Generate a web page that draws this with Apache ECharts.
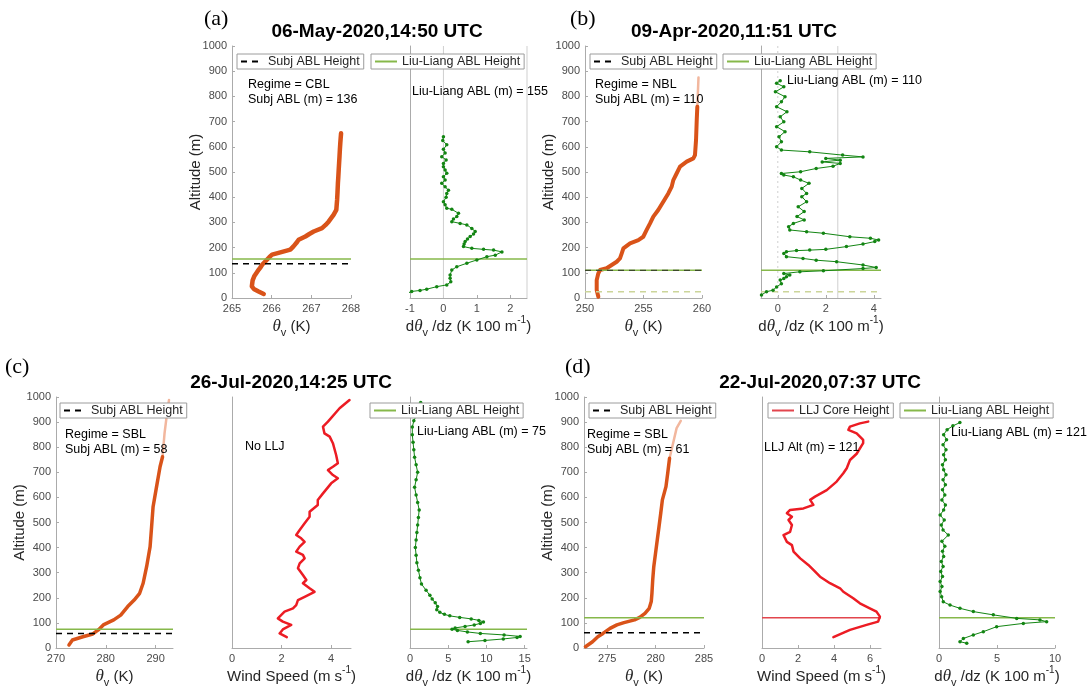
<!DOCTYPE html>
<html><head><meta charset="utf-8">
<script src="https://cdn.jsdelivr.net/npm/echarts@6/dist/echarts.min.js"></script>
<style>html,body{margin:0;padding:0;background:#fff}#c{width:1089px;height:692px}</style>
</head><body><div id="c"></div><script>
// ---------------- DATA ----------------
// Panel (a)
const aTitle = '06-May-2020,14:50 UTC';
const aRegime = 'CBL';
const aSubjABL = 136;
const aLiuLiangABL = 155;
const aThetaTicks = [265, 266, 267, 268];
const aGradTicks = [-1, 0, 1, 2];
const aThetaAlt = [16, 26, 36, 46, 53, 70, 86, 100, 112, 122, 132, 142, 152, 162, 172, 181, 192, 205, 218, 231, 244, 254, 264, 277, 290, 304, 317, 330, 350, 370, 390, 420, 456, 480, 508, 535, 561, 590, 614, 635, 654];
const aThetaVal = [265.80, 265.67, 265.55, 265.50, 265.48, 265.52, 265.56, 265.62, 265.67, 265.72, 265.76, 265.82, 265.88, 265.94, 266.01, 266.22, 266.47, 266.55, 266.62, 266.68, 266.85, 266.95, 267.06, 267.27, 267.36, 267.44, 267.50, 267.56, 267.63, 267.64, 267.65, 267.66, 267.67, 267.68, 267.69, 267.70, 267.71, 267.72, 267.73, 267.74, 267.75];
const aGradAlt = [22, 26, 30, 35, 45, 52, 64, 78, 91, 111, 124, 138, 151, 164, 170, 183, 190, 193, 197, 204, 214, 224, 234, 244, 254, 264, 276, 290, 296, 303, 313, 323, 336, 352, 356, 370, 382, 400, 415, 428, 441, 455, 468, 481, 495, 508, 521, 534, 548, 561, 575, 590, 608, 625, 640];
const aGradVal = [-1.02, -0.95, -0.7, -0.5, -0.2, 0.1, 0.22, 0.2, 0.2, 0.25, 0.4, 0.7, 1.0, 1.3, 1.55, 1.75, 1.5, 1.2, 0.85, 0.6, 0.62, 0.65, 0.72, 0.8, 0.9, 0.95, 0.85, 0.7, 0.5, 0.25, 0.3, 0.4, 0.45, 0.25, 0.1, 0.05, 0.0, 0.08, 0.1, 0.15, 0.05, -0.05, 0.05, 0.0, 0.1, 0.05, 0.0, 0.0, 0.08, -0.05, 0.05, 0.0, 0.1, -0.02, 0.0];
const aRefX = [0, 2.5];

// Panel (b)
const bTitle = '09-Apr-2020,11:51 UTC';
const bRegime = 'NBL';
const bSubjABL = 110;
const bLiuLiangABL = 110;
const bLowerLine = 25;
const bThetaTicks = [250, 255, 260];
const bGradTicks = [0, 2, 4];
const bThetaAlt = [5, 32, 71, 98, 111, 118, 131, 144, 157, 177, 197, 217, 230, 243, 270, 296, 323, 349, 382, 415, 442, 468, 495, 521, 541, 554, 567, 627, 706, 759];
const bThetaVal = [251.14, 251.0, 251.0, 251.14, 251.28, 251.85, 252.28, 252.71, 252.99, 253.14, 253.28, 253.85, 254.56, 254.98, 255.27, 255.56, 255.84, 256.26, 256.69, 257.12, 257.41, 257.55, 257.84, 258.12, 258.69, 259.26, 259.4, 259.49, 259.55, 259.6];
const bThetaUpAlt = [759, 817, 875];
const bThetaUpVal = [259.6, 259.65, 259.7];
const bGradAlt = [12, 25, 31, 44, 57, 71, 77, 84, 91, 97, 104, 108, 117, 121, 131, 144, 150, 157, 164, 177, 184, 188, 190, 193, 204, 214, 224, 230, 237, 243, 257, 263, 270, 283, 296, 310, 323, 343, 362, 382, 402, 415, 435, 455, 468, 481, 488, 494, 501, 514, 523, 534, 540, 547, 554, 560, 567, 580, 587, 600, 620, 640, 660, 680, 699, 719, 739, 759, 779, 799, 818, 838, 852, 862];
const bGradVal = [-0.68, -0.47, -0.2, -0.05, 0.15, 0.1, 0.25, 0.36, 0.5, 0.25, 0.92, 1.9, 3.55, 4.1, 3.55, 2.45, 1.6, 1.05, 0.36, 0.25, 0.36, 0.78, 1.33, 2.0, 2.86, 3.55, 4.04, 4.2, 3.86, 3.0, 1.9, 1.2, 0.5, 0.45, 0.65, 1.1, 0.8, 1.1, 0.85, 1.2, 1.0, 1.2, 1.0, 1.3, 0.95, 0.65, 0.25, 0.15, 0.95, 1.6, 2.3, 2.6, 1.85, 2.6, 2.0, 3.55, 2.7, 1.33, 0.15, -0.05, 0.15, 0.05, 0.3, -0.05, 0.25, 0.1, 0.38, -0.05, 0.15, 0.3, -0.1, 0.25, -0.05, 0.1];
const bRefSolidX = 2.5;
const bRefDotX = 0;

// Panel (c)
const cTitle = '26-Jul-2020,14:25 UTC';
const cRegime = 'SBL';
const cSubjABL = 58;
const cLiuLiangABL = 75;
const cThetaTicks = [270, 280, 290];
const cWindTicks = [0, 2, 4];
const cGradTicks = [0, 5, 10, 15];
const cThetaAlt = [12, 32, 45, 56, 72, 92, 112, 131, 165, 191, 218, 258, 324, 404, 483, 563, 643, 722, 762];
const cThetaVal = [272.6, 273.3, 275.4, 277.4, 278.5, 279.5, 281.6, 283.0, 284.4, 285.7, 286.8, 287.5, 288.2, 288.9, 289.2, 289.5, 290.2, 290.9, 291.4];
const cThetaUpAlt = [762, 855, 935, 988];
const cThetaUpVal = [291.4, 291.8, 292.3, 292.7];
const cWindAlt = [43, 58, 74, 92, 105, 118, 145, 158, 171, 191, 204, 224, 238, 258, 271, 291, 318, 337, 357, 371, 384, 404, 423, 437, 450, 470, 497, 523, 543, 570, 590, 616, 656, 676, 689, 709, 722, 736, 769, 816, 842, 855, 882, 902, 955, 988];
const cWindVal = [2.21, 1.92, 2.05, 2.39, 2.05, 1.85, 2.12, 2.46, 2.59, 2.66, 2.93, 3.33, 3.13, 2.86, 3.0, 2.86, 2.66, 2.73, 2.93, 2.86, 2.59, 2.73, 2.93, 2.79, 2.59, 2.73, 2.93, 3.13, 3.13, 3.46, 3.46, 3.67, 4.0, 4.27, 4.07, 3.87, 4.07, 4.27, 4.2, 4.07, 3.94, 3.73, 3.67, 3.87, 4.34, 4.74];
const cGradAlt = [25, 30, 36, 42, 46, 52, 58, 64, 70, 75, 80, 86, 92, 98, 104, 110, 116, 122, 128, 134, 142, 152, 165, 180, 195, 210, 230, 255, 280, 310, 340, 370, 400, 430, 460, 490, 520, 550, 580, 610, 640, 670, 700, 730, 760, 790, 820, 850, 880, 905, 930, 955, 978];
const cGradVal = [7.6, 9.8, 12.2, 14.0, 14.4, 12.3, 9.2, 7.5, 6.2, 5.5, 5.9, 7.2, 8.4, 9.2, 9.6, 9.0, 8.0, 6.5, 5.2, 4.5, 3.9, 3.5, 3.6, 3.3, 2.9, 2.6, 2.1, 1.5, 1.3, 1.1, 0.9, 0.8, 0.7, 0.8, 0.9, 1.0, 1.1, 1.2, 1.0, 0.8, 0.6, 0.8, 1.0, 0.8, 0.6, 0.5, 0.4, 0.3, 0.3, 0.5, 0.9, 1.1, 1.4];

// Panel (d)
const dTitle = '22-Jul-2020,07:37 UTC';
const dRegime = 'SBL';
const dSubjABL = 61;
const dLiuLiangABL = 121;
const dLLJAlt = 121;
const dThetaTicks = [275, 280, 285];
const dWindTicks = [0, 2, 4, 6];
const dGradTicks = [0, 5, 10];
const dThetaAlt = [5, 25, 45, 58, 78, 92, 101, 112, 122, 138, 158, 185, 218, 271, 324, 377, 430, 483, 537, 590, 643, 696, 756];
const dThetaVal = [272.75, 273.48, 274.03, 274.56, 275.29, 276.0, 276.73, 277.82, 278.36, 278.9, 279.34, 279.55, 279.62, 279.7, 279.81, 279.99, 280.17, 280.35, 280.53, 280.7, 281.07, 281.25, 281.44];
const dThetaUpAlt = [756, 815, 876, 905];
const dThetaUpVal = [281.44, 281.8, 282.17, 282.6];
const dWindAlt = [43, 72, 92, 105, 125, 145, 158, 178, 198, 224, 238, 258, 284, 311, 331, 357, 384, 410, 423, 450, 463, 490, 510, 523, 537, 550, 556, 570, 590, 603, 629, 663, 696, 716, 749, 774, 816, 829, 855, 869, 882, 895, 902];
const dWindVal = [3.96, 4.88, 5.8, 6.44, 6.54, 6.35, 5.98, 5.43, 5.06, 4.51, 4.33, 3.77, 3.22, 2.85, 2.57, 2.12, 1.75, 1.66, 1.38, 1.19, 1.56, 1.66, 1.47, 1.66, 1.38, 1.56, 2.3, 2.85, 2.67, 2.94, 3.59, 4.14, 4.51, 4.7, 4.88, 5.25, 5.61, 5.61, 5.25, 4.79, 4.88, 5.43, 5.89];
const dGradAlt = [19, 25, 38, 52, 65, 85, 98, 105, 112, 118, 132, 145, 158, 171, 184, 204, 225, 245, 265, 285, 305, 325, 345, 365, 385, 405, 425, 450, 470, 490, 510, 530, 550, 570, 590, 610, 630, 650, 670, 690, 710, 730, 750, 770, 790, 810, 830, 850, 870, 885, 898];
const dGradVal = [2.39, 1.81, 2.1, 2.96, 3.82, 4.97, 7.27, 9.28, 8.7, 6.7, 4.68, 2.96, 1.81, 0.95, 0.37, 0.23, 0.1, 0.25, 0.1, 0.3, 0.15, 0.35, 0.2, 0.4, 0.3, 0.5, 0.25, 0.8, 0.35, 0.2, 0.45, 0.1, 0.4, 0.55, 0.25, 0.5, 0.3, 0.55, 0.35, 0.6, 0.4, 0.3, 0.55, 0.4, 0.6, 0.35, 0.65, 0.4, 0.7, 1.2, 1.8];

// ---------------- LAYOUT / STYLE ----------------
const FONT = '"Liberation Sans", Arial, Helvetica, sans-serif';
const SERIF = '"Liberation Serif", "Times New Roman", serif';
const ORANGE = '#D95319', ORANGE_L = '#F2B79E';
const GREEN = '#138513', LLG = '#86B84A', RED = '#EC1C24', LLJR = '#E2454D';
const AXC = '#ABABAB', REFC = '#CFCFCF', TXT = '#262626', LOWC = '#CCD59A';

// grids: [left, top, width, height]
const GRIDS = [
  [232, 46, 119, 252], [410, 46, 117, 252],
  [585, 46, 117, 252], [761, 46, 120, 252],
  [56, 397, 117, 251], [232, 397, 119, 251], [410, 397, 117, 251],
  [584, 397, 120, 251], [762, 397, 119, 251], [939, 397, 116, 251]
];
const XLIM = [[265, 268], [-1, 2.5], [250, 260], [-0.7, 4.3], [270, 293.5], [0, 4.8], [0, 15.3], [272.6, 285], [0, 6.6], [0, 10]];
const XTICKS = [aThetaTicks, aGradTicks, bThetaTicks, bGradTicks, cThetaTicks, cWindTicks, cGradTicks, dThetaTicks, dWindTicks, dGradTicks];
const NAME_THETA = '{it|θ}{sub|v} (K)';
const NAME_GRAD = 'd{it|θ}{sub|v} /dz (K 100 m{sup|-1})';
const NAME_WIND = 'Wind Speed (m s{sup|-1})';
const XNAMES = [NAME_THETA, NAME_GRAD, NAME_THETA, NAME_GRAD, NAME_THETA, NAME_WIND, NAME_GRAD, NAME_THETA, NAME_WIND, NAME_GRAD];
const LEFT_PANELS = [0, 2, 4, 7];

const rich = {
  it: {fontFamily: SERIF, fontStyle: 'italic', fontSize: 17, color: TXT, lineHeight: 24},
  sub: {fontFamily: FONT, fontSize: 11, color: TXT, lineHeight: 12, verticalAlign: 'bottom'},
  sup: {fontFamily: FONT, fontSize: 10, color: TXT, lineHeight: 11, verticalAlign: 'top'}
};

const grid = GRIDS.map(g => ({left: g[0], top: g[1], width: g[2], height: g[3], containLabel: false}));
const xAxis = GRIDS.map((g, i) => ({
  type: 'value', gridIndex: i, min: XLIM[i][0], max: XLIM[i][1],
  axisLine: {show: true, onZero: false, lineStyle: {color: AXC, width: 1}},
  axisTick: {show: true, inside: true, length: 3, customValues: XTICKS[i], lineStyle: {color: AXC}},
  axisLabel: {show: true, customValues: XTICKS[i], fontSize: 11, color: '#4a4a4a', fontFamily: FONT, margin: 5,
    formatter: v => String(v)},
  splitLine: {show: false},
  name: XNAMES[i], nameLocation: 'middle', nameGap: 14,
  nameTextStyle: {fontFamily: FONT, fontSize: 15, color: TXT, lineHeight: 24, rich: rich}
}));
const yAxis = GRIDS.map((g, i) => {
  const lab = LEFT_PANELS.includes(i);
  return {
    type: 'value', gridIndex: i, min: 0, max: 1000, interval: 100,
    axisLine: {show: true, onZero: false, lineStyle: {color: AXC, width: 1}},
    axisTick: {show: lab, inside: true, length: 3, lineStyle: {color: AXC}},
    axisLabel: {show: lab, fontSize: 11, color: '#4a4a4a', fontFamily: FONT, margin: 5, formatter: v => String(v)},
    splitLine: {show: false},
    name: lab ? 'Altitude (m)' : '', nameLocation: 'middle', nameGap: 29, nameMoveOverlap: false,
    nameTextStyle: {fontFamily: FONT, fontSize: 15, color: TXT}
  };
});

// ---------------- SERIES ----------------
const series = [];
const zip = (vals, alts) => vals.map((v, k) => [v, alts[k]]);
function line(name, gi, data, color, width, extra) {
  series.push(Object.assign({
    type: 'line', name: name, xAxisIndex: gi, yAxisIndex: gi, data: data,
    symbol: 'none', silent: true, animation: false,
    lineStyle: {color: color, width: width, cap: 'round', join: 'round'},
    itemStyle: {color: color}
  }, extra || {}));
}
function hline(name, gi, y, color, width, type) {
  line(name, gi, [[XLIM[gi][0], y], [XLIM[gi][1], y]], color, width,
    {lineStyle: {color: color, width: width, type: type || 'solid'}});
}
function vline(gi, x, color, type) {
  line('ref', gi, [[x, 0], [x, 1000]], color, 1, {lineStyle: {color: color, width: 1, type: type || 'solid'}});
}
function grad(name, gi, vals, alts) {
  line(name, gi, zip(vals, alts), GREEN, 1, {symbol: 'circle', symbolSize: 3.5, showSymbol: true, showAllSymbol: true});
}
const SUBJ = 'Subj ABL Height', LL = 'Liu-Liang ABL Height', LLJ = 'LLJ Core Height';
const DASH = [6, 5];

// (a)
line('theta-a', 0, zip(aThetaVal, aThetaAlt), ORANGE, 4.5);
hline(LL, 0, aLiuLiangABL, LLG, 1.5);
hline(SUBJ, 0, aSubjABL, '#000', 1.5, DASH);
aRefX.forEach(x => vline(1, x, REFC));
hline(LL, 1, aLiuLiangABL, LLG, 1.5);
grad('grad-a', 1, aGradVal, aGradAlt);

// (b)
line('theta-b-up', 2, zip(bThetaUpVal, bThetaUpAlt), ORANGE_L, 2.5);
line('theta-b', 2, zip(bThetaVal, bThetaAlt), ORANGE, 4);
hline('lower-b', 2, bLowerLine, LOWC, 1.5, DASH);
hline(LL, 2, bLiuLiangABL, LLG, 1.5);
hline('subj-b', 2, bSubjABL, '#3d4a2a', 1.2, DASH);
vline(3, bRefDotX, REFC, [2, 3]);
vline(3, bRefSolidX, REFC);
hline('lower-b2', 3, bLowerLine, LOWC, 1.5, DASH);
hline(LL, 3, bLiuLiangABL, LLG, 1.5);
grad('grad-b', 3, bGradVal, bGradAlt);

// (c)
line('theta-c-up', 4, zip(cThetaUpVal, cThetaUpAlt), ORANGE_L, 2.5);
line('theta-c', 4, zip(cThetaVal, cThetaAlt), ORANGE, 3.5);
hline(LL, 4, cLiuLiangABL, LLG, 1.5);
hline(SUBJ, 4, cSubjABL, '#000', 1.5, DASH);
line('wind-c', 5, zip(cWindVal, cWindAlt), RED, 2.5);
hline(LL, 6, cLiuLiangABL, LLG, 1.5);
grad('grad-c', 6, cGradVal, cGradAlt);

// (d)
line('theta-d-up', 7, zip(dThetaUpVal, dThetaUpAlt), ORANGE_L, 2.5);
line('theta-d', 7, zip(dThetaVal, dThetaAlt), ORANGE, 3.5);
hline(LL, 7, dLiuLiangABL, LLG, 1.5);
hline(SUBJ, 7, dSubjABL, '#000', 1.5, DASH);
hline(LLJ, 8, dLLJAlt, LLJR, 1.5);
line('wind-d', 8, zip(dWindVal, dWindAlt), RED, 2.5);
hline(LL, 9, dLiuLiangABL, LLG, 1.5);
grad('grad-d', 9, dGradVal, dGradAlt);

// ---------------- LEGENDS ----------------
function leg(name, left, top) {
  return {
    data: [name], left: left, top: top, orient: 'horizontal', selectedMode: false,
    padding: [1, 4, 1, 3], itemWidth: 22, itemHeight: 10, itemGap: 0,
    borderColor: '#9c9c9c', borderWidth: 1, backgroundColor: '#fff',
    itemStyle: {opacity: 0},
    textStyle: {fontSize: 12.5, color: TXT, fontFamily: FONT}
  };
}
const legend = [
  leg(SUBJ, 237, 54), leg(LL, 371, 54),
  leg(SUBJ, 590, 54), leg(LL, 723, 54),
  leg(SUBJ, 60, 403), leg(LL, 370, 403),
  leg(SUBJ, 589, 403), leg(LLJ, 768, 403), leg(LL, 900, 403)
];

// ---------------- TEXT ----------------
function txt(text, x, y, font, align) {
  return {type: 'text', x: x, y: y, silent: true, z: 100,
    style: {text: text, font: font, fill: '#000', align: align || 'left', verticalAlign: 'middle'}};
}
const F_ANN = '12.5px ' + FONT, F_TTL = 'bold 19px ' + FONT, F_LAB = '22px ' + SERIF;
const graphic = [
  txt('(a)', 204, 19, F_LAB), txt('(b)', 570, 19, F_LAB),
  txt('(c)', 5, 367, F_LAB), txt('(d)', 565, 367, F_LAB),
  txt(aTitle, 377, 32, F_TTL, 'center'), txt(bTitle, 734, 32, F_TTL, 'center'),
  txt(cTitle, 291, 383, F_TTL, 'center'), txt(dTitle, 820, 383, F_TTL, 'center'),
  txt('Regime = ' + aRegime, 248, 85, F_ANN), txt('Subj ABL (m) = ' + aSubjABL, 248, 100, F_ANN),
  txt('Liu-Liang ABL (m) = ' + aLiuLiangABL, 412, 92, F_ANN),
  txt('Regime = ' + bRegime, 595, 85, F_ANN), txt('Subj ABL (m) = ' + bSubjABL, 595, 100, F_ANN),
  txt('Liu-Liang ABL (m) = ' + bLiuLiangABL, 787, 81, F_ANN),
  txt('Regime = ' + cRegime, 65, 435, F_ANN), txt('Subj ABL (m) = ' + cSubjABL, 65, 450, F_ANN),
  txt('No LLJ', 245, 447, F_ANN),
  txt('Liu-Liang ABL (m) = ' + cLiuLiangABL, 417, 432, F_ANN),
  txt('Regime = ' + dRegime, 587, 435, F_ANN), txt('Subj ABL (m) = ' + dSubjABL, 587, 450, F_ANN),
  txt('LLJ Alt (m) = ' + dLLJAlt, 764, 448, F_ANN),
  txt('Liu-Liang ABL (m) = ' + dLiuLiangABL, 951, 433, F_ANN)
];

const chart = echarts.init(document.getElementById('c'), null, {renderer: 'canvas'});
chart.setOption({
  animation: false, backgroundColor: '#fff',
  grid: grid, xAxis: xAxis, yAxis: yAxis, series: series, legend: legend, graphic: graphic
});
</script></body></html>
